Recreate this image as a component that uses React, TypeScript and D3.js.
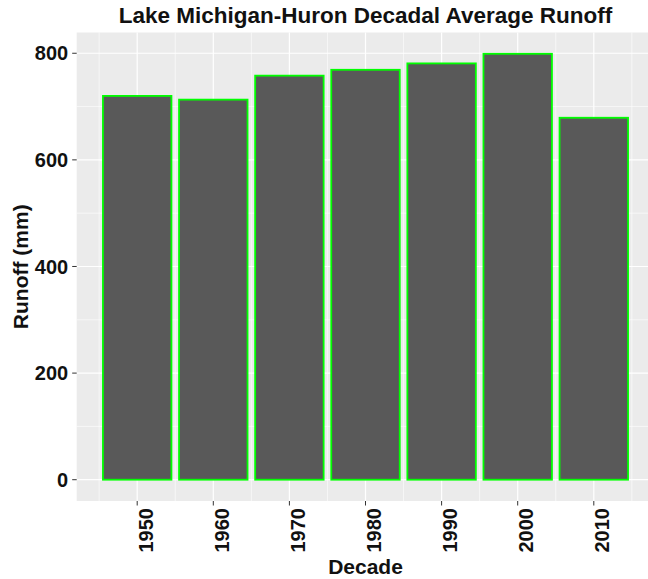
import React, { useEffect, useRef } from 'react';
import * as d3 from 'd3';

const decades = [1950, 1960, 1970, 1980, 1990, 2000, 2010];
const runoff = [720, 713, 758, 769, 781, 799, 679];
const yTicks = [0, 200, 400, 600, 800];
const yMinor = [100, 300, 500, 700];
const xMinor = [1945, 1955, 1965, 1975, 1985, 1995, 2005, 2015];

const App: React.FC = () => {
  const svgRef = useRef<SVGSVGElement | null>(null);

  useEffect(() => {
    if (!svgRef.current) return;
    const width = 648;
    const height = 579;
    const panel = { left: 76.7, top: 32.5, right: 654.3, bottom: 501 };
    const font = '"Liberation Sans", Arial, Helvetica, sans-serif';

    const svg = d3.select(svgRef.current);
    svg.selectAll('*').remove();
    svg.attr('width', width).attr('height', height);

    // ggplot-like expansion: bar width 9, 5% padding
    const barW = 9;
    const xLo = d3.min(decades)! - barW / 2;
    const xHi = d3.max(decades)! + barW / 2;
    const xPad = (xHi - xLo) * 0.05;
    const x = d3.scaleLinear()
      .domain([xLo - xPad, xHi + xPad])
      .range([panel.left, panel.right]);

    const yMax = d3.max(runoff)!;
    const yPad = yMax * 0.05;
    const y = d3.scaleLinear()
      .domain([-yPad, yMax + yPad])
      .range([panel.bottom, panel.top]);

    svg.append('rect')
      .attr('width', width).attr('height', height)
      .attr('fill', '#fff');

    // panel
    svg.append('rect')
      .attr('x', panel.left).attr('y', panel.top)
      .attr('width', panel.right - panel.left)
      .attr('height', panel.bottom - panel.top)
      .attr('fill', '#EBEBEB');

    const grid = svg.append('g');
    grid.selectAll('line.ymin').data(yMinor).enter().append('line')
      .attr('x1', panel.left).attr('x2', panel.right)
      .attr('y1', d => y(d)).attr('y2', d => y(d))
      .attr('stroke', '#fff').attr('stroke-width', 0.6);
    grid.selectAll('line.xmin').data(xMinor).enter().append('line')
      .attr('x1', d => x(d)).attr('x2', d => x(d))
      .attr('y1', panel.top).attr('y2', panel.bottom)
      .attr('stroke', '#fff').attr('stroke-width', 0.6);
    grid.selectAll('line.ymaj').data(yTicks).enter().append('line')
      .attr('x1', panel.left).attr('x2', panel.right)
      .attr('y1', d => y(d)).attr('y2', d => y(d))
      .attr('stroke', '#fff').attr('stroke-width', 1.2);
    grid.selectAll('line.xmaj').data(decades).enter().append('line')
      .attr('x1', d => x(d)).attr('x2', d => x(d))
      .attr('y1', panel.top).attr('y2', panel.bottom)
      .attr('stroke', '#fff').attr('stroke-width', 1.2);

    // bars
    svg.append('g').selectAll('rect').data(decades).enter().append('rect')
      .attr('x', d => x(d - barW / 2))
      .attr('width', d => x(d + barW / 2) - x(d - barW / 2))
      .attr('y', (d, i) => y(runoff[i]))
      .attr('height', (d, i) => y(0) - y(runoff[i]))
      .attr('fill', '#595959')
      .attr('stroke', '#00FF00')
      .attr('stroke-width', 1.8);

    // y axis
    const yAxis = svg.append('g');
    yAxis.selectAll('line').data(yTicks).enter().append('line')
      .attr('x1', panel.left - 4.5).attr('x2', panel.left)
      .attr('y1', d => y(d)).attr('y2', d => y(d))
      .attr('stroke', '#333').attr('stroke-width', 1);
    yAxis.selectAll('text').data(yTicks).enter().append('text')
      .attr('x', panel.left - 8.5)
      .attr('y', d => y(d))
      .attr('dy', '0.36em')
      .attr('text-anchor', 'end')
      .style('font-family', font)
      .style('font-weight', 'bold')
      .style('font-size', '20px')
      .attr('fill', '#111')
      .text(d => d);

    // x axis
    const xAxis = svg.append('g');
    xAxis.selectAll('line').data(decades).enter().append('line')
      .attr('x1', d => x(d)).attr('x2', d => x(d))
      .attr('y1', panel.bottom).attr('y2', panel.bottom + 4.5)
      .attr('stroke', '#333').attr('stroke-width', 1);
    xAxis.selectAll('text').data(decades).enter().append('text')
      .attr('transform', d => `translate(${x(d) + 15.5}, ${panel.bottom + 7}) rotate(-90)`)
      .attr('text-anchor', 'end')
      .style('font-family', font)
      .style('font-weight', 'bold')
      .style('font-size', '20px')
      .attr('fill', '#111')
      .text(d => d);

    // titles
    svg.append('text')
      .attr('x', (panel.left + panel.right) / 2)
      .attr('y', 22.5)
      .attr('text-anchor', 'middle')
      .style('font-family', font)
      .style('font-weight', 'bold')
      .style('font-size', '22.5px')
      .attr('fill', '#111')
      .text('Lake Michigan-Huron Decadal Average Runoff');

    svg.append('text')
      .attr('x', (panel.left + panel.right) / 2)
      .attr('y', 574)
      .attr('text-anchor', 'middle')
      .style('font-family', font)
      .style('font-weight', 'bold')
      .style('font-size', '21px')
      .attr('fill', '#111')
      .text('Decade');

    svg.append('text')
      .attr('transform', `translate(28, ${(panel.top + panel.bottom) / 2}) rotate(-90)`)
      .attr('text-anchor', 'middle')
      .style('font-family', font)
      .style('font-weight', 'bold')
      .style('font-size', '21px')
      .attr('fill', '#111')
      .text('Runoff (mm)');
  }, []);

  return (
    <div style={{ position: 'absolute', left: 0, top: 0 }}>
      <svg ref={svgRef} style={{ display: 'block' }}></svg>
    </div>
  );
};

export default App;
